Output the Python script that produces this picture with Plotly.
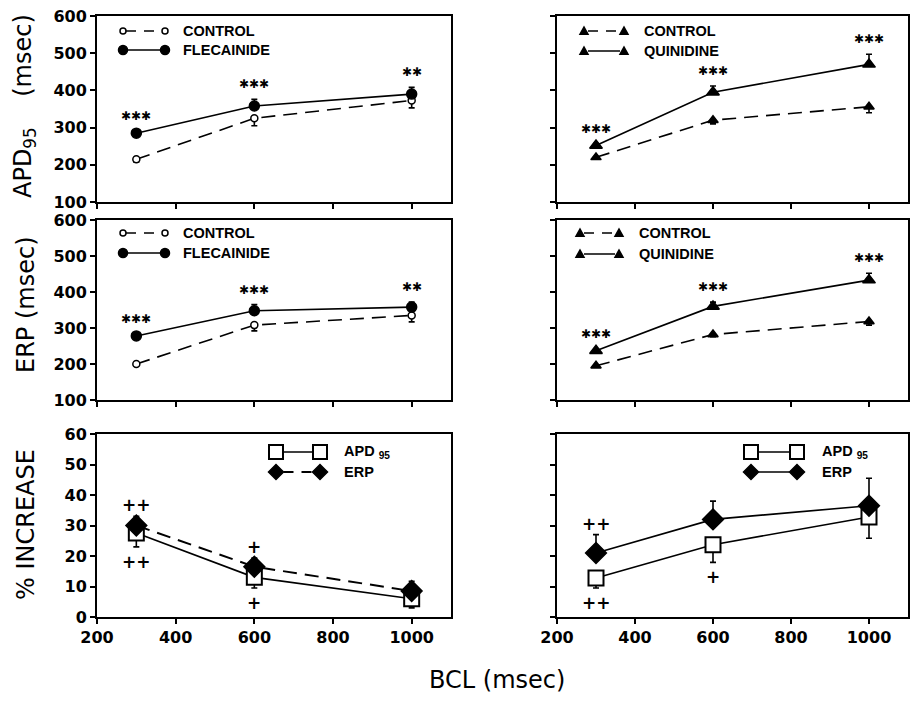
import plotly.graph_objects as go

# ---------------- data ----------------
bcl = [300, 600, 1000]

# APD95 (msec)
apd_control_f = [215, 325, 373]
apd_control_f_err = [8, 20, 20]
apd_flecainide = [285, 358, 390]
apd_flecainide_err = [6, 18, 18]

apd_control_q = [220, 320, 356]
apd_control_q_err = [5, 10, 16]
apd_quinidine = [252, 395, 470]
apd_quinidine_err = [5, 17, 27]

# ERP (msec)
erp_control_f = [200, 308, 335]
erp_control_f_err = [4, 16, 18]
erp_flecainide = [278, 348, 358]
erp_flecainide_err = [5, 17, 14]

erp_control_q = [195, 282, 318]
erp_control_q_err = [4, 6, 10]
erp_quinidine = [237, 360, 433]
erp_quinidine_err = [4, 12, 19]

# % increase
pct_apd_f = [27.5, 13.0, 6.0]
pct_apd_f_err = [4.5, 3.5, 3.0]
pct_erp_f = [30.0, 16.5, 8.5]
pct_erp_f_err = [3.0, 2.8, 3.2]

pct_apd_q = [12.8, 23.7, 32.8]
pct_apd_q_err = [3.3, 5.8, 7.0]
pct_erp_q = [21.0, 32.0, 36.5]
pct_erp_q_err = [6.0, 6.0, 9.0]

# significance labels
sig_apd_f = ["✱✱✱", "✱✱✱", "✱✱"]
sig_apd_q = ["✱✱✱", "✱✱✱", "✱✱✱"]
sig_erp_f = ["✱✱✱", "✱✱✱", "✱✱"]
sig_erp_q = ["✱✱✱", "✱✱✱", "✱✱✱"]
plus_f_above = ["++", "+", ""]
plus_f_below = ["++", "+", ""]
plus_q_above = ["++", "", ""]
plus_q_below = ["++", "+", ""]

x_ticks = [200, 400, 600, 800, 1000]
msec_ticks = [100, 200, 300, 400, 500, 600]
pct_ticks = [0, 10, 20, 30, 40, 50, 60]

# ---------------- layout helpers ----------------
W, H = 910, 702
def px(x):
    return x / W
def py(y):
    return 1 - y / H

LEFT = [97, 451]
RIGHT = [557, 908]
ROWS = [[16, 202], [220, 400], [434, 617]]

fig = go.Figure()

axis_common = dict(showline=True, linewidth=2, linecolor="black", mirror=True,
                   ticks="outside", ticklen=5, tickwidth=2, tickcolor="black",
                   showgrid=False, zeroline=False, automargin=False,
                   tickfont=dict(family="DejaVu Sans", size=16, color="black", weight="bold"))

layout_axes = {}
for i in range(6):
    row, col = divmod(i, 2)
    xs = LEFT if col == 0 else RIGHT
    ys = ROWS[row]
    n = "" if i == 0 else str(i + 1)
    layout_axes["xaxis" + n] = dict(axis_common, domain=[px(xs[0]), px(xs[1])],
                                    range=[200, 1100], tickvals=x_ticks,
                                    showticklabels=(row == 2),
                                    anchor="y" + n)
    if row < 2:
        yr, yt = [100, 600], msec_ticks
    else:
        yr, yt = [0, 60], pct_ticks
    layout_axes["yaxis" + n] = dict(axis_common, domain=[py(ys[1]), py(ys[0])],
                                    range=yr, tickvals=yt,
                                    showticklabels=(col == 0),
                                    anchor="x" + n)

def add(idx, y, err, up, symbol, size, color, dash, lw=1.6, mlw=1.5):
    n = "" if idx == 1 else str(idx)
    zeros = [0] * len(err)
    fig.add_trace(go.Scatter(
        x=bcl, y=y, xaxis="x" + n, yaxis="y" + n, mode="lines+markers",
        line=dict(color="black", width=lw, dash=dash),
        marker=dict(symbol=symbol, size=size, color=color,
                    line=dict(color="black", width=mlw)),
        error_y=dict(type="data", symmetric=False,
                     array=err if up else zeros,
                     arrayminus=zeros if up else err,
                     color="black", thickness=1.6, width=3),
        showlegend=False))

DASH = "14px,8px"
# top-left
add(1, apd_control_f, apd_control_f_err, False, "circle", 7, "white", DASH)
add(1, apd_flecainide, apd_flecainide_err, True, "circle", 10, "black", "solid")
# top-right
add(2, apd_control_q, apd_control_q_err, False, "triangle-up", 9, "black", DASH)
add(2, apd_quinidine, apd_quinidine_err, True, "triangle-up", 11, "black", "solid")
# middle-left
add(3, erp_control_f, erp_control_f_err, False, "circle", 7, "white", DASH)
add(3, erp_flecainide, erp_flecainide_err, True, "circle", 10, "black", "solid")
# middle-right
add(4, erp_control_q, erp_control_q_err, False, "triangle-up", 9, "black", DASH)
add(4, erp_quinidine, erp_quinidine_err, True, "triangle-up", 11, "black", "solid")
# bottom-left
add(5, pct_apd_f, pct_apd_f_err, False, "square", 15, "white", "solid", mlw=2)
add(5, pct_erp_f, pct_erp_f_err, True, "diamond", 16, "black", DASH, lw=2)
# bottom-right
add(6, pct_apd_q, pct_apd_q_err, False, "square", 15, "white", "solid", mlw=2)
add(6, pct_erp_q, pct_erp_q_err, True, "diamond", 16, "black", "solid")

annotations = []
shapes = []

def sig(idx, y, err, labels):
    n = "" if idx == 1 else str(idx)
    for xv, yv, ev, lab in zip(bcl, y, err, labels):
        if lab:
            annotations.append(dict(x=xv, y=yv + ev, xref="x" + n, yref="y" + n,
                                    text=lab, showarrow=False, yanchor="middle",
                                    yshift=15,
                                    font=dict(family="DejaVu Sans", size=12,
                                              color="black", weight="bold")))

sig(1, apd_flecainide, apd_flecainide_err, sig_apd_f)
sig(2, apd_quinidine, apd_quinidine_err, sig_apd_q)
sig(3, erp_flecainide, erp_flecainide_err, sig_erp_f)
sig(4, erp_quinidine, erp_quinidine_err, sig_erp_q)

def plus(idx, y, err, labels, above):
    n = "" if idx == 1 else str(idx)
    for xv, yv, ev, lab in zip(bcl, y, err, labels):
        if lab:
            annotations.append(dict(x=xv, y=(yv + ev) if above else (yv - ev),
                                    xref="x" + n, yref="y" + n,
                                    text=lab, showarrow=False, yanchor="middle",
                                    yshift=11 if above else -15,
                                    font=dict(family="DejaVu Sans", size=17,
                                              color="black", weight="bold")))

plus(5, pct_erp_f, pct_erp_f_err, plus_f_above, True)
plus(5, pct_apd_f, pct_apd_f_err, plus_f_below, False)
plus(6, pct_erp_q, pct_erp_q_err, plus_q_above, True)
plus(6, pct_apd_q, pct_apd_q_err, plus_q_below, False)

# ---------------- legends (drawn as shapes) ----------------
LEG_FONT = dict(family="Liberation Sans", size=14.5, color="black", weight="bold")

def marker_shape(kind, xc, yc, r, filled):
    base = dict(xref="paper", yref="paper", xsizemode="pixel", ysizemode="pixel",
                xanchor=px(xc), yanchor=py(yc),
                line=dict(color="black", width=1.5 if kind != "square" else 2),
                fillcolor="black" if filled else "white", layer="above")
    if kind == "circle":
        shapes.append(dict(base, type="circle", x0=-r, x1=r, y0=-r, y1=r))
    elif kind == "square":
        shapes.append(dict(base, type="rect", x0=-r, x1=r, y0=-r, y1=r))
    elif kind == "diamond":
        shapes.append(dict(base, type="path",
                           path=f"M {-r} 0 L 0 {r} L {r} 0 L 0 {-r} Z"))
    elif kind == "triangle":
        shapes.append(dict(base, type="path",
                           path=f"M {-r} {-r*0.8} L {r} {-r*0.8} L 0 {r} Z"))

def legend_entry(x0, x1, xt, yy, kind, r, filled, dash, label, lw=1.5):
    shapes.append(dict(type="line", xref="paper", yref="paper",
                       x0=px(x0 + r), x1=px(x1 - r), y0=py(yy), y1=py(yy),
                       line=dict(color="black", width=lw, dash=dash)))
    marker_shape(kind, x0, yy, r, filled)
    marker_shape(kind, x1, yy, r, filled)
    annotations.append(dict(x=px(xt), y=py(yy), xref="paper", yref="paper",
                            text=label, showarrow=False, xanchor="left",
                            yanchor="middle", font=LEG_FONT))

LDASH = "10px,8px"
legend_entry(123, 165, 181, 31, "circle", 3, False, LDASH, "CONTROL")
legend_entry(123, 165, 181, 50, "circle", 4.5, True, "solid", "FLECAINIDE")
legend_entry(584, 624, 642, 31, "triangle", 4, True, LDASH, "CONTROL")
legend_entry(584, 624, 642, 51, "triangle", 4, True, "solid", "QUINIDINE")
legend_entry(123, 165, 181, 233, "circle", 3, False, LDASH, "CONTROL")
legend_entry(123, 165, 181, 253, "circle", 4.5, True, "solid", "FLECAINIDE")
legend_entry(580, 619, 637, 233, "triangle", 4, True, LDASH, "CONTROL")
legend_entry(580, 619, 637, 254, "triangle", 4, True, "solid", "QUINIDINE")
legend_entry(276, 320, 342, 452, "square", 7, False, "solid", "APD <sub>95</sub>")
legend_entry(276, 320, 342, 472, "diamond", 7.5, True, LDASH, "ERP", lw=2)
legend_entry(751, 797, 820, 452, "square", 7, False, "solid", "APD <sub>95</sub>")
legend_entry(751, 797, 820, 472, "diamond", 7.5, True, "solid", "ERP")

# ---------------- axis titles ----------------
TITLE_FONT = dict(family="DejaVu Sans", size=24, color="black")
annotations.append(dict(x=px(24), y=py(106), xref="paper", yref="paper",
                        text="APD<sub>95</sub>&nbsp;&nbsp;&nbsp;&nbsp;(msec)", textangle=-90,
                        showarrow=False,
                        xanchor="center", yanchor="middle", font=TITLE_FONT))
annotations.append(dict(x=px(26), y=py(305), xref="paper", yref="paper",
                        text="ERP (msec)", textangle=-90, showarrow=False,
                        xanchor="center", yanchor="middle", font=TITLE_FONT))
annotations.append(dict(x=px(26), y=py(525), xref="paper", yref="paper",
                        text="% INCREASE", textangle=-90, showarrow=False,
                        xanchor="center", yanchor="middle", font=TITLE_FONT))
annotations.append(dict(x=px(497), y=py(680), xref="paper", yref="paper",
                        text="BCL (msec)", showarrow=False,
                        xanchor="center", yanchor="middle", font=TITLE_FONT))

fig.update_layout(width=W, height=H, margin=dict(l=0, r=0, t=0, b=0),
                  paper_bgcolor="white", plot_bgcolor="white",
                  showlegend=False, annotations=annotations, shapes=shapes,
                  **layout_axes)

fig.write_html("out.html")
